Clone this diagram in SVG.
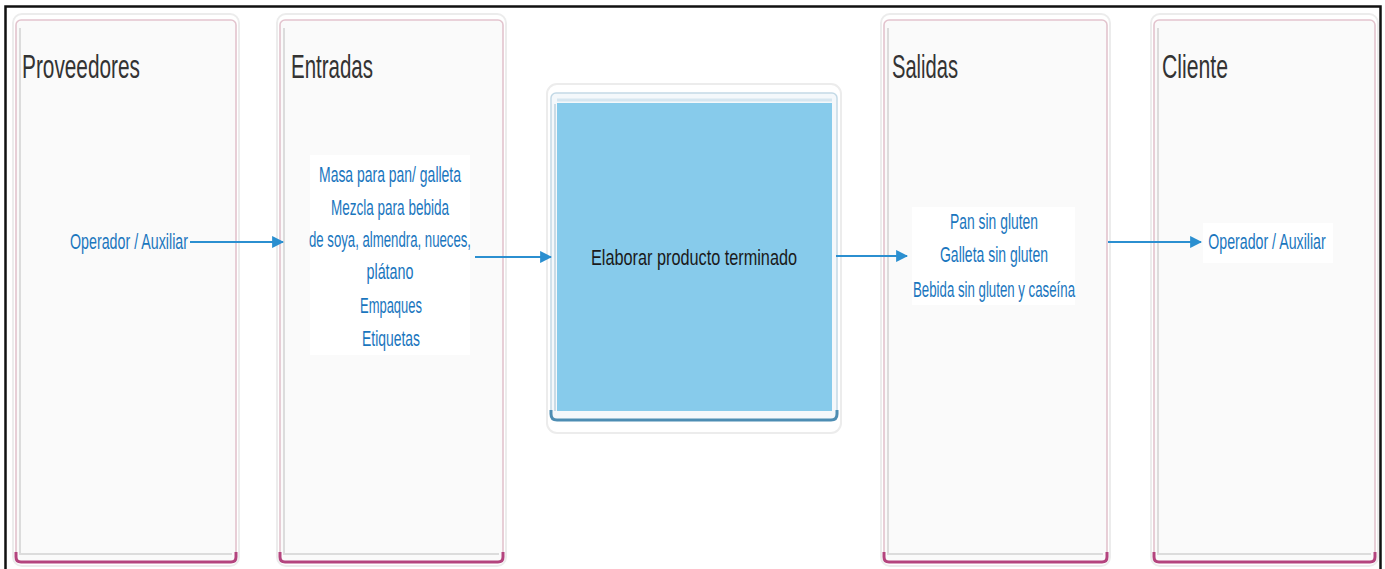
<svg xmlns="http://www.w3.org/2000/svg" width="1385" height="569" viewBox="0 0 1385 569">
<style>
.glow{fill:none;stroke:#ececec;stroke-width:2}
.lane{fill:#fafafa;stroke:#e3c4ce;stroke-width:1.6}
.lanebot{fill:none;stroke:#b4447e;stroke-width:3}
.inshade{fill:none;stroke:#dcdcdc;stroke-width:2}
.title{font-family:"Liberation Sans",Arial,sans-serif;font-size:34px;fill:#333}
.blue{font-family:"Liberation Sans",Arial,sans-serif;font-size:22px;fill:#1a76be;text-anchor:middle}
.conn{stroke:#2b8fd0;stroke-width:2.2;fill:none;marker-end:url(#ah)}
</style>
<defs>
<marker id="ah" viewBox="0 0 10 10" refX="9" refY="5" markerWidth="5.5" markerHeight="5.5" orient="auto" markerUnits="strokeWidth">
<path d="M0,0 L10,5 L0,10 z" fill="#2b8fd0"/>
</marker>
</defs>
<rect x="0" y="0" width="1385" height="569" fill="#ffffff"/>
<rect x="5.5" y="6.5" width="1375" height="580" fill="none" stroke="#111" stroke-width="2.5"/>

<g id="proveedores">
<rect class="glow" x="13" y="14" width="226" height="552" rx="9"/>
<rect class="lane" x="16" y="20" width="220" height="542" rx="5"/>
<line class="inshade" x1="20" y1="28" x2="20" y2="555"/>
<line class="inshade" x1="20" y1="554" x2="232" y2="554" stroke="#eeeeee"/>
<path class="lanebot" d="M16,552 L16,557 Q16,562 21,562 L231,562 Q236,562 236,557 L236,552"/>
<text class="title" x="22" y="78" textLength="118" lengthAdjust="spacingAndGlyphs">Proveedores</text>
<text class="blue" x="129" y="249" textLength="118" lengthAdjust="spacingAndGlyphs">Operador / Auxiliar</text>
</g>

<g id="entradas">
<rect class="glow" x="277" y="14" width="229" height="552" rx="9"/>
<rect class="lane" x="280" y="20" width="223" height="542" rx="5"/>
<line class="inshade" x1="284" y1="28" x2="284" y2="555"/>
<line class="inshade" x1="284" y1="554" x2="499" y2="554" stroke="#eeeeee"/>
<path class="lanebot" d="M280,552 L280,557 Q280,562 285,562 L498,562 Q503,562 503,557 L503,552"/>
<text class="title" x="291" y="78" textLength="82" lengthAdjust="spacingAndGlyphs">Entradas</text>
<rect x="310" y="155" width="160" height="200" fill="#ffffff"/>
<text class="blue" x="390" y="182" textLength="142" lengthAdjust="spacingAndGlyphs">Masa para pan/ galleta</text>
<text class="blue" x="390" y="215" textLength="118" lengthAdjust="spacingAndGlyphs">Mezcla para bebida</text>
<text class="blue" x="390" y="247" textLength="162" lengthAdjust="spacingAndGlyphs">de soya, almendra, nueces,</text>
<text class="blue" x="390" y="279" textLength="47" lengthAdjust="spacingAndGlyphs">plátano</text>
<text class="blue" x="391" y="313" textLength="62" lengthAdjust="spacingAndGlyphs">Empaques</text>
<text class="blue" x="391" y="346" textLength="58" lengthAdjust="spacingAndGlyphs">Etiquetas</text>
</g>

<g id="elaborar">
<rect x="547" y="84" width="294" height="349" rx="10" fill="#ffffff" stroke="#ececec" stroke-width="2"/>
<rect x="551" y="93" width="286" height="327" rx="5" fill="#f4f8fb" stroke="#c3d9e6" stroke-width="1.5"/>
<rect x="557" y="103" width="275" height="308" fill="#87cbeb"/>
<line x1="557" y1="100" x2="832" y2="100" stroke="#d6e6f0" stroke-width="3"/>
<line x1="555" y1="104" x2="555" y2="411" stroke="#c9dbe6" stroke-width="2"/>
<path d="M551,410 L551,414 Q551,420 557,420 L831,420 Q837,420 837,414 L837,410" fill="none" stroke="#4d8db3" stroke-width="3"/>
<text x="694" y="265" font-family="'Liberation Sans',Arial,sans-serif" font-size="22" fill="#1a1a1a" text-anchor="middle" textLength="206" lengthAdjust="spacingAndGlyphs">Elaborar producto terminado</text>
</g>

<g id="salidas">
<rect class="glow" x="881" y="14" width="229" height="552" rx="9"/>
<rect class="lane" x="884" y="20" width="223" height="542" rx="5"/>
<line class="inshade" x1="888" y1="28" x2="888" y2="555"/>
<line class="inshade" x1="888" y1="554" x2="1103" y2="554" stroke="#eeeeee"/>
<path class="lanebot" d="M884,552 L884,557 Q884,562 889,562 L1102,562 Q1107,562 1107,557 L1107,552"/>
<text class="title" x="892" y="78" textLength="66" lengthAdjust="spacingAndGlyphs">Salidas</text>
<rect x="912" y="207" width="163" height="98" fill="#ffffff"/>
<text class="blue" x="994" y="229" textLength="88" lengthAdjust="spacingAndGlyphs">Pan sin gluten</text>
<text class="blue" x="994" y="262" textLength="108" lengthAdjust="spacingAndGlyphs">Galleta sin gluten</text>
<text class="blue" x="994" y="297" textLength="162" lengthAdjust="spacingAndGlyphs">Bebida sin gluten y caseína</text>
</g>

<g id="cliente">
<rect class="glow" x="1151" y="14" width="227" height="552" rx="9"/>
<rect class="lane" x="1154" y="20" width="221" height="542" rx="5"/>
<line class="inshade" x1="1158" y1="28" x2="1158" y2="555"/>
<line class="inshade" x1="1158" y1="554" x2="1371" y2="554" stroke="#eeeeee"/>
<path class="lanebot" d="M1154,552 L1154,557 Q1154,562 1159,562 L1370,562 Q1375,562 1375,557 L1375,552"/>
<text class="title" x="1162" y="78" textLength="66" lengthAdjust="spacingAndGlyphs">Cliente</text>
<rect x="1203" y="223" width="130" height="40" fill="#ffffff"/>
<text class="blue" transform="translate(1267 249) scale(0.645 1)" x="0" y="0">Operador / Auxiliar</text>
</g>

<g id="connectors">
<line class="conn" x1="190" y1="242" x2="283" y2="242"/>
<line class="conn" x1="475" y1="257" x2="551" y2="257"/>
<line class="conn" x1="836" y1="256" x2="907" y2="256"/>
<line class="conn" x1="1108" y1="242" x2="1201" y2="242"/>
</g>
</svg>
